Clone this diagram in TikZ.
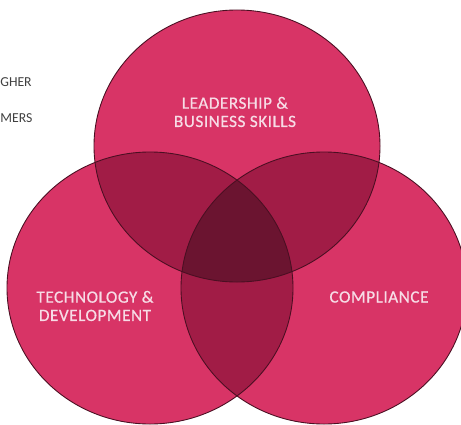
\documentclass[tikz,border=0pt]{standalone}
\usepackage{fontspec}
\setmainfont{Carlito}
\newfontfamily\vennfont[LetterSpace=3,FakeBold=0.6]{Carlito}
\usetikzlibrary{positioning}
\definecolor{vennpink}{HTML}{D83466}
\definecolor{venntwo}{HTML}{A11C46}
\definecolor{vennthree}{HTML}{6B1430}
\definecolor{vennline}{HTML}{4A0F22}
\definecolor{venntext}{HTML}{F7DCE6}

\begin{document}
\begin{tikzpicture}[
  area/.style={font=\vennfont\fontsize{9.8}{10.4}\selectfont, align=center, text=venntext},
  side/.style={font=\fontsize{7.8}{8}\selectfont, text=black!75, anchor=west, inner sep=0pt},
  ring/.style={draw=vennline, line width=0.5pt},
]
  \useasboundingbox (0,0) rectangle (9.22,8.48);
  \clip (0,0) rectangle (9.22,8.48);

  % Cut-off text on the left
  \node[side] (higher) at (0,6.84) {GHER};
  \node[side] (customers) at (0,6.12) {MERS};

  % Three sets
  \fill[vennpink] (4.74,5.56) ellipse [x radius=2.86, y radius=2.72];
  \fill[vennpink] (3.00,2.72) ellipse [x radius=2.86, y radius=2.72];
  \fill[vennpink] (6.48,2.72) ellipse [x radius=2.86, y radius=2.72];

  % Overlaps of two
  \begin{scope}
    \clip (4.74,5.56) ellipse [x radius=2.86, y radius=2.72];
    \fill[venntwo] (3.00,2.72) ellipse [x radius=2.86, y radius=2.72];
    \fill[venntwo] (6.48,2.72) ellipse [x radius=2.86, y radius=2.72];
  \end{scope}
  \begin{scope}
    \clip (3.00,2.72) ellipse [x radius=2.86, y radius=2.72];
    \fill[venntwo] (6.48,2.72) ellipse [x radius=2.86, y radius=2.72];
  \end{scope}

  % Overlap of all three
  \begin{scope}
    \clip (4.74,5.56) ellipse [x radius=2.86, y radius=2.72];
    \clip (3.00,2.72) ellipse [x radius=2.86, y radius=2.72];
    \fill[vennthree] (6.48,2.72) ellipse [x radius=2.86, y radius=2.72];
  \end{scope}

  % Outlines
  \draw[ring] (4.74,5.56) ellipse [x radius=2.86, y radius=2.72];
  \draw[ring] (3.00,2.72) ellipse [x radius=2.86, y radius=2.72];
  \draw[ring] (6.48,2.72) ellipse [x radius=2.86, y radius=2.72];

  % Set labels
  \node[area] (leadership) at (4.70,6.24) {LEADERSHIP \&\\BUSINESS SKILLS};
  \node[area] (technology) at (1.90,2.36) {TECHNOLOGY \&\\DEVELOPMENT};
  \node[area] (compliance) at (7.58,2.54) {COMPLIANCE};

\end{tikzpicture}
\end{document}
